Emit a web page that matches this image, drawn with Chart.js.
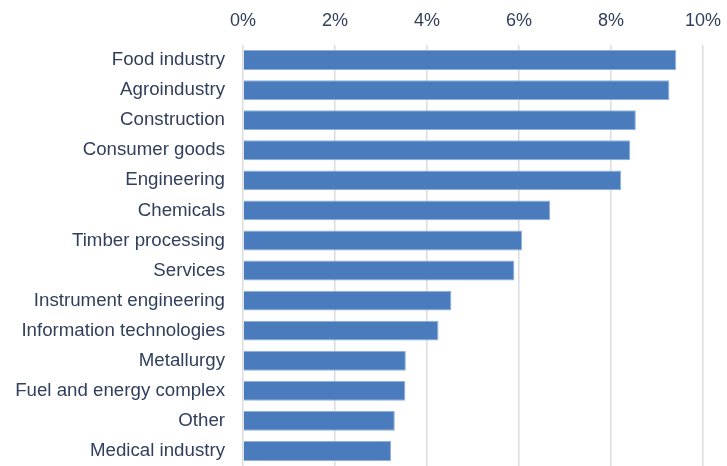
<!DOCTYPE html>
<html>
<head>
<meta charset="utf-8">
<script src="https://cdn.jsdelivr.net/npm/chart.js@4/dist/chart.umd.min.js"></script>
<style>
  html, body { margin: 0; padding: 0; background: #ffffff; }
  #wrap { position: relative; width: 727px; height: 466px; }
</style>
</head>
<body>
<div id="wrap"><canvas id="sectorChart"></canvas></div>
<script>
// Sectors, top to bottom
const sectors = [
    'Food industry', 'Agroindustry', 'Construction', 'Consumer goods',
    'Engineering', 'Chemicals', 'Timber processing', 'Services',
    'Instrument engineering', 'Information technologies', 'Metallurgy',
    'Fuel and energy complex', 'Other', 'Medical industry'
];

// Share, %
const shares = [9.42, 9.27, 8.54, 8.42, 8.22, 6.68, 6.07, 5.90, 4.53, 4.25, 3.54, 3.53, 3.30, 3.22];

// Axis ticks, %
const xTicks = [0, 2, 4, 6, 8, 10];

const textColor = '#313e5c';
const gridColor = '#dcdcdc';
const fontFamily = '"Liberation Sans", Arial, Helvetica, sans-serif';

const ctx = document.getElementById('sectorChart');

new Chart(ctx, {
    type: 'bar',
    data: {
        labels: sectors,
        datasets: [{
            data: shares,
            backgroundColor: '#4a7bbd',
            borderColor: '#8fb1dc',
            borderWidth: 1,
            categoryPercentage: 1,
            barPercentage: 0.66
        }]
    },
    options: {
        indexAxis: 'y',
        responsive: true,
        maintainAspectRatio: false,
        animation: false,
        layout: { padding: { top: 0, right: 24, bottom: 0, left: 0 } },
        plugins: {
            legend: { display: false },
            tooltip: { enabled: false }
        },
        scales: {
            x: {
                position: 'top',
                min: xTicks[0],
                max: xTicks[xTicks.length - 1],
                afterBuildTicks: function(scale) {
                    scale.ticks = xTicks.map(v => ({ value: v }));
                },
                afterFit: function(scale) {
                    scale.height = 45;
                    // let the outer labels overhang, layout padding handles the edges
                    scale.paddingLeft = 0;
                    scale.paddingRight = 0;
                },
                ticks: {
                    color: textColor,
                    font: { family: fontFamily, size: 18 },
                    padding: 13,
                    callback: function(value) {
                        return value + '%';
                    }
                },
                grid: {
                    color: gridColor,
                    lineWidth: 1.5,
                    drawTicks: false
                },
                border: { display: false }
            },
            y: {
                afterFit: function(scale) {
                    scale.width = 243;
                    scale.paddingTop = 0;
                    scale.paddingBottom = 0;
                },
                ticks: {
                    color: textColor,
                    font: { family: fontFamily, size: 18.7 },
                    padding: 18,
                    autoSkip: false
                },
                grid: { display: false, drawTicks: false },
                border: { display: false }
            }
        }
    }
});
</script>
</body>
</html>
